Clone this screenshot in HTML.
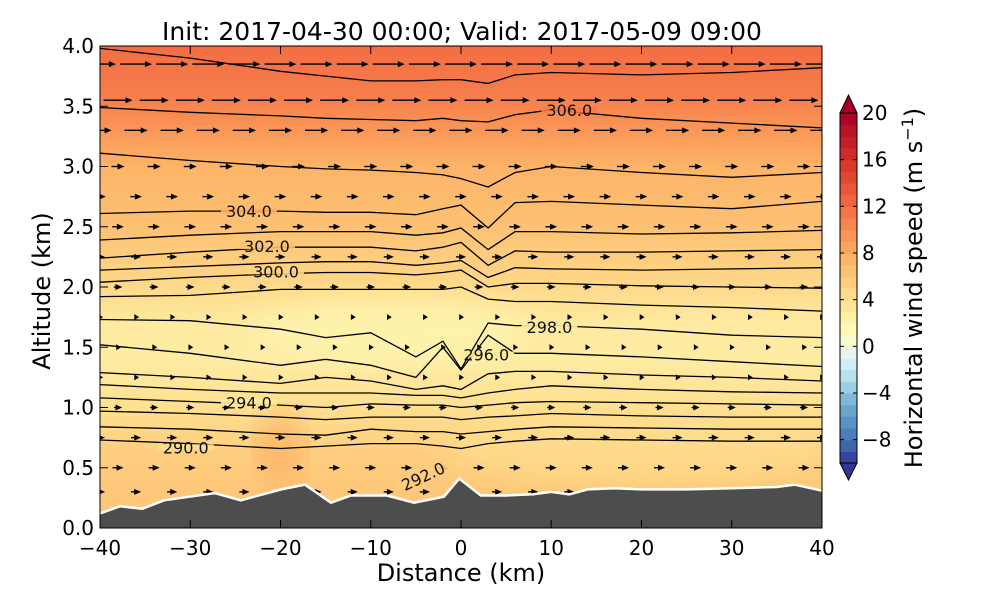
<!DOCTYPE html>
<html><head><meta charset="utf-8"><style>
body{margin:0;background:#fff;}
svg text{font-family:"DejaVu Sans","Liberation Sans",sans-serif;}
</style></head><body>
<svg id="chart" width="1000" height="600" viewBox="0 0 1000 600" xmlns="http://www.w3.org/2000/svg">
<defs>
<linearGradient id="bgGrad" x1="0" y1="0" x2="0" y2="1"></linearGradient>
<clipPath id="plotClip"><rect x="100" y="46" width="722" height="482"/></clipPath>
<filter id="blur"><feGaussianBlur stdDeviation="14"/></filter>
</defs>
<text x="462" y="40" font-size="25" text-anchor="middle">Init: 2017-04-30 00:00; Valid: 2017-05-09 09:00</text>
<g id="plot" clip-path="url(#plotClip)"></g>
<g id="axes"></g>
<g id="cbar"></g>
</svg>
<script>
// ---- data ----
const xTicks = [-40,-30,-20,-10,0,10,20,30,40];
const yTicks = [0.0,0.5,1.0,1.5,2.0,2.5,3.0,3.5,4.0];
const cbarTicks = [20,16,12,8,4,0,-4,-8];
const bgAlt = [4.0,3.6,3.3,3.0,2.5,2.1,1.7,1.4,1.0,0.6,0.3,0.0];
const bgSpeed = [12,11,9.5,7.5,6.5,5,3,2.8,4,5.5,6,6];
const contourX = [-40,-30,-20,-15,-10,-5,-2,0,3,6,10,20,30,40];
const contourAlts = [
[3.98,3.90,3.79,3.75,3.71,3.71,3.72,3.72,3.69,3.76,3.78,3.76,3.78,3.82],
[3.49,3.45,3.42,3.40,3.39,3.38,3.40,3.38,3.37,3.43,3.47,3.40,3.36,3.32],
[3.11,3.05,3.00,2.98,2.97,2.95,2.93,2.90,2.83,2.95,3.00,2.95,2.91,2.95],
[2.61,2.63,2.63,2.62,2.62,2.60,2.65,2.68,2.49,2.70,2.71,2.68,2.65,2.71],
[2.39,2.43,2.46,2.46,2.46,2.43,2.45,2.49,2.31,2.46,2.46,2.44,2.45,2.47],
[2.24,2.29,2.33,2.33,2.33,2.30,2.33,2.37,2.18,2.30,2.29,2.29,2.30,2.31],
[2.14,2.17,2.20,2.21,2.21,2.18,2.20,2.22,2.08,2.16,2.15,2.14,2.15,2.16],
[2.04,2.08,2.11,2.12,2.12,2.10,2.12,2.14,2.00,2.03,2.03,2.01,2.00,1.99],
[1.92,1.93,1.98,1.98,1.98,1.98,1.98,2.00,1.90,1.88,1.88,1.85,1.83,1.80],
[1.73,1.72,1.65,1.58,1.62,1.42,1.55,1.32,1.70,1.68,1.68,1.65,1.60,1.58],
[1.52,1.45,1.35,1.40,1.35,1.25,1.50,1.31,1.60,1.45,1.45,1.42,1.38,1.34],
[1.29,1.25,1.20,1.25,1.22,1.15,1.18,1.15,1.28,1.30,1.30,1.27,1.25,1.22],
[1.19,1.15,1.12,1.12,1.12,1.10,1.10,1.08,1.12,1.15,1.18,1.15,1.13,1.12],
[1.08,1.05,1.02,1.00,1.03,1.02,1.02,1.00,1.02,1.04,1.05,1.04,1.03,1.02],
[0.97,0.95,0.92,0.90,0.92,0.92,0.92,0.90,0.92,0.93,0.95,0.93,0.92,0.92],
[0.84,0.82,0.78,0.77,0.82,0.80,0.80,0.78,0.80,0.82,0.84,0.83,0.82,0.82],
[0.73,0.70,0.66,0.68,0.70,0.70,0.68,0.66,0.70,0.72,0.74,0.73,0.72,0.72]
];
const labelText = ["306.0","304.0","302.0","300.0","298.0","296.0","294.0","290.0","292.0"];
const labelX = [12,-23.5,-21.5,-20.5,9.8,2.8,-23.5,-30.5,-4.2];
const labelAlt = [3.47,2.63,2.34,2.13,1.67,1.44,1.04,0.67,0.43];
const labelRot = [0,0,0,0,0,0,0,0,-25];
const terrainX = [-40,-37.8,-35.3,-32.9,-27.3,-24.4,-19.9,-17.3,-14.4,-12.2,-8.2,-5.2,-1.9,-0.2,2.2,5,8,10,12,14,17,20,25,30,35,37,40];
const terrainAlt = [0.12,0.18,0.16,0.23,0.29,0.23,0.32,0.36,0.21,0.27,0.27,0.21,0.26,0.41,0.27,0.27,0.28,0.30,0.28,0.32,0.33,0.32,0.32,0.33,0.34,0.36,0.31];
const arrowRowAlt = [3.85,3.55,3.30,3.00,2.75,2.50,2.25,2.00,1.75,1.50,1.25,1.00,0.75,0.50,0.30];
const arrowRowSpeed = [11,10,8,4.5,4,4,3.5,3,1.2,1,1.5,2.8,3.5,3.8,3.5];
const arrowCols = [-40,-36,-32,-28,-24,-20,-16,-12,-8,-4,0,4,8,12,16,20,24,28,32,36,40];

// ---- scales ----
const X0=100,X1=822,Y0=528,Y1=46;
const sx = v => X0 + (v+40)/80*(X1-X0);
const sy = v => Y0 - v/4*(Y0-Y1);
const CB_X=840,CB_W=17,CB_TOP=113,CB_BOT=463;
const cy = v => CB_BOT - (v+10)/30*(CB_BOT-CB_TOP);
const cmV=[-10,-8,-5,-3,-1,1,4,8,12,16,20];
const cmC=["#313695","#4575b4","#74add1","#abd9e9","#e0f3f8","#ffffbf","#fee090","#fdae61","#f46d43","#d73027","#a50026"];
function hex(c){return [1,3,5].map(i=>parseInt(c.substr(i,2),16));}
function cmap(v){
  if(v<=cmV[0])return cmC[0]; if(v>=cmV[cmV.length-1])return cmC[cmC.length-1];
  for(let i=0;i<cmV.length-1;i++){ if(v<=cmV[i+1]){const t=(v-cmV[i])/(cmV[i+1]-cmV[i]);const a=hex(cmC[i]),b=hex(cmC[i+1]);
    return "rgb("+a.map((x,k)=>Math.round(x+(b[k]-x)*t)).join(",")+")";}}
}
const NS="http://www.w3.org/2000/svg";
function mk(tag,attrs,parent){const e=document.createElementNS(NS,tag);for(const k in attrs)e.setAttribute(k,attrs[k]);parent.appendChild(e);return e;}

const grad=document.getElementById('bgGrad');
bgAlt.forEach((a,i)=>{mk('stop',{offset:((4-a)/4).toFixed(3),'stop-color':cmap(bgSpeed[i])},grad);});
const plot=document.getElementById('plot');
const bg=mk('rect',{x:X0,y:Y1,width:X1-X0,height:Y0-Y1,fill:'url(#bgGrad)'},plot);


const pale=mk('ellipse',{cx:sx(-8),cy:sy(1.65),rx:140,ry:35,fill:cmap(1.8),opacity:0.6,filter:'url(#blur)'},plot);


const pale2=mk('ellipse',{cx:sx(20),cy:sy(0.7),rx:200,ry:40,fill:cmap(4),opacity:0.7,filter:'url(#blur)'},plot);


const dark=mk('ellipse',{cx:sx(-20),cy:sy(0.65),rx:25,ry:40,fill:cmap(7.5),opacity:0.8,filter:'url(#blur)'},plot);



contourAlts.forEach((row,i)=>{
  const pts=row.map((a,j)=>sx(contourX[j]).toFixed(1)+","+sy(a).toFixed(1)).join(" ");
  const p=mk('polyline',{points:pts,fill:'none',stroke:'#000','stroke-width':1.3},plot);
  
  
});
arrowRowAlt.forEach((a,r)=>{
  arrowCols.forEach((c,k)=>{
    const xc=sx(c+(r%2?2:0)), yc=sy(a);
    const len=Math.max(6,arrowRowSpeed[r]*2.9);
    const g=mk('g',{},plot);
    
    
    const xs=xc-len/2, xe=xc+len/2;
    if(len>8) mk('line',{x1:xs,y1:yc,x2:xe-5,y2:yc,stroke:'#000','stroke-width':1.4},g);
    const hl=Math.min(7,len*0.8);
    mk('polygon',{points:`${xe},${yc} ${xe-hl},${yc-3} ${xe-hl},${yc+3}`,fill:'#000'},g);
  });
});
labelText.forEach((t,i)=>{
  const x=sx(labelX[i]),y=sy(labelAlt[i]);
  const g=mk('g',{transform:`translate(${x},${y}) rotate(${labelRot[i]})`},plot);
  
  
  mk('rect',{x:-28,y:-3,width:56,height:6,fill:cmap(bgSpeed[Math.min(bgAlt.length-1,Math.round((4-labelAlt[i])/0.4))]),opacity:0.9},g);
  const tx=mk('text',{x:0,y:6,'font-size':16,'text-anchor':'middle',fill:'#111'},g);tx.textContent=t;
});
let tp=`${sx(-40)},${Y0+2} `+terrainX.map((v,i)=>sx(v).toFixed(1)+","+sy(terrainAlt[i]).toFixed(1)).join(" ")+` ${sx(40)},${Y0+2}`;
const ter=mk('polygon',{points:tp,fill:'#4d4d4d'},plot);


const terl=mk('polyline',{points:terrainX.map((v,i)=>sx(v).toFixed(1)+","+sy(terrainAlt[i]).toFixed(1)).join(" "),fill:'none',stroke:'#fff','stroke-width':2.5},plot);



const ax=document.getElementById('axes');
const fr=mk('rect',{x:X0,y:Y1,width:X1-X0,height:Y0-Y1,fill:'none',stroke:'#000','stroke-width':1},ax);


xTicks.forEach(v=>{
  const x=sx(v);
  mk('line',{x1:x,y1:Y0,x2:x,y2:Y0-8,stroke:'#000'},ax);
  mk('line',{x1:x,y1:Y1,x2:x,y2:Y1+8,stroke:'#000'},ax);
  const t=mk('text',{x:x,y:555,'font-size':20,'text-anchor':'middle'},ax);
  t.textContent=(v<0?"\u2212"+(-v):""+v);
  
  
});
yTicks.forEach(v=>{
  const y=sy(v);
  mk('line',{x1:X0,y1:y,x2:X0+8,y2:y,stroke:'#000'},ax);
  mk('line',{x1:X1,y1:y,x2:X1-8,y2:y,stroke:'#000'},ax);
  const t=mk('text',{x:94,y:y+7,'font-size':20,'text-anchor':'end'},ax);
  t.textContent=v.toFixed(1);
  
  
});
const xl=mk('text',{x:461,y:581,'font-size':24,'text-anchor':'middle'},ax);xl.textContent="Distance (km)";


const yl=mk('text',{x:50,y:291,'font-size':24,'text-anchor':'middle',transform:'rotate(-90 50 291)'},ax);yl.textContent="Altitude (km)";



const cb=document.getElementById('cbar');


for(let v=-10;v<20;v++){
  const r=mk('rect',{x:CB_X,y:cy(v+1),width:CB_W,height:cy(v)-cy(v+1)+0.5,fill:cmap(v+0.5)},cb);
  
  
}
mk('polygon',{points:`${CB_X},${CB_TOP} ${CB_X+CB_W/2},95 ${CB_X+CB_W},${CB_TOP}`,fill:cmC[10],stroke:'#000'},cb);
mk('polygon',{points:`${CB_X},${CB_BOT} ${CB_X+CB_W/2},480 ${CB_X+CB_W},${CB_BOT}`,fill:cmC[0],stroke:'#000'},cb);
mk('rect',{x:CB_X,y:CB_TOP,width:CB_W,height:CB_BOT-CB_TOP,fill:'none',stroke:'#000'},cb);
cbarTicks.forEach(v=>{
  const y=cy(v);
  mk('line',{x1:CB_X,y1:y,x2:CB_X+4,y2:y,stroke:'#000'},cb);
  mk('line',{x1:CB_X+CB_W,y1:y,x2:CB_X+CB_W-4,y2:y,stroke:'#000'},cb);
  const t=mk('text',{x:862,y:y+7,'font-size':20},cb);
  t.textContent=(v<0?"\u2212"+(-v):""+v);
  
  
});
const cl=mk('text',{x:922,y:288,'font-size':24,'text-anchor':'middle',transform:'rotate(-90 922 288)'},cb);
cl.innerHTML='Horizontal wind speed (m s<tspan dy="-9" font-size="16">\u22121</tspan><tspan dy="9">)</tspan>';


</script>
</body></html>
